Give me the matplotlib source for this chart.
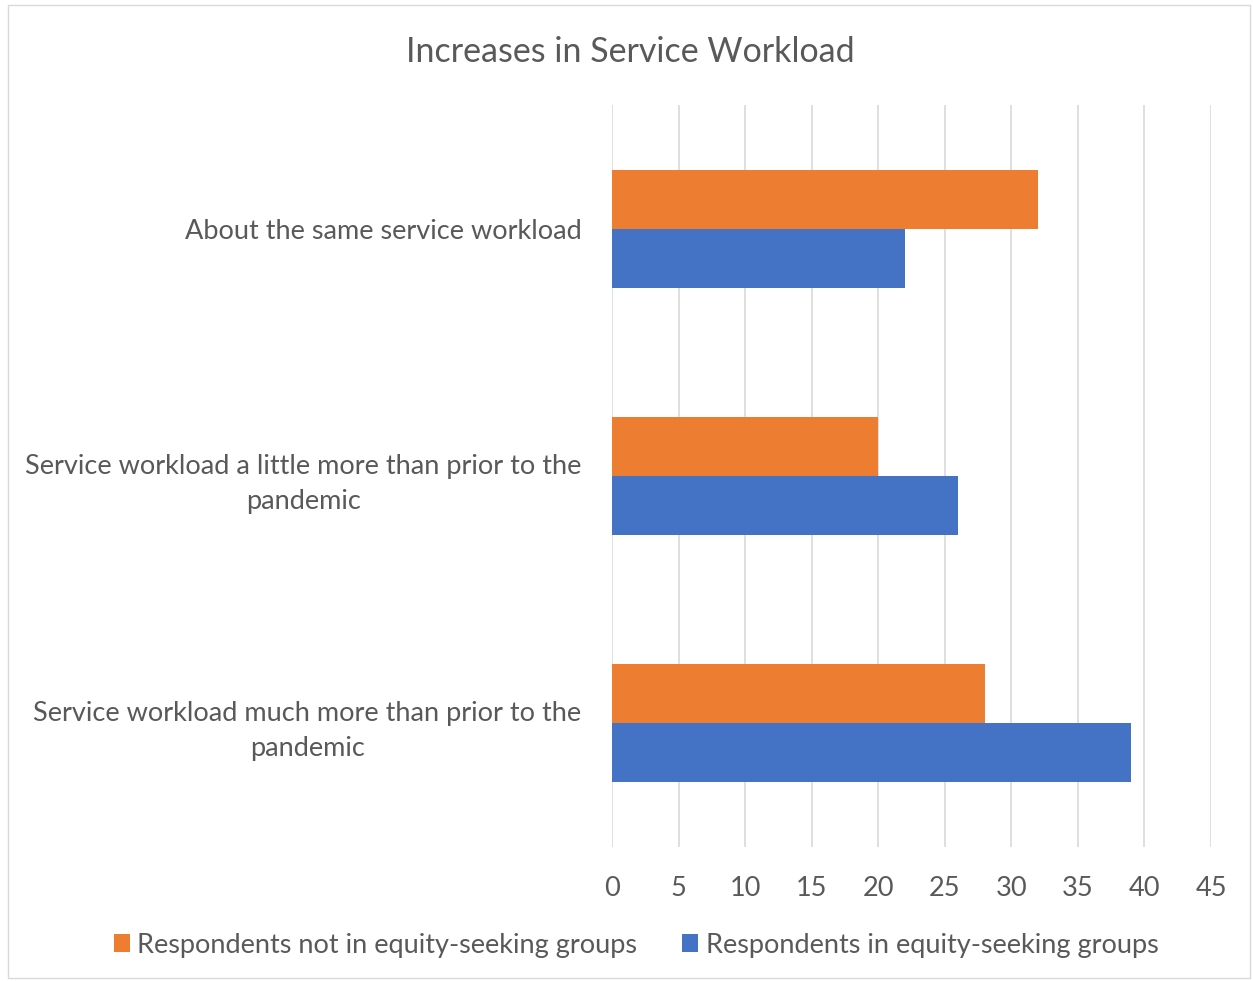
import matplotlib
matplotlib.use("Agg")
import matplotlib.pyplot as plt
from matplotlib.patches import Rectangle

categories = ["About the same service workload",
              "Service workload a little more than prior to the\npandemic",
              "Service workload much more than prior to the\npandemic"]
not_equity = [32, 20, 28]
equity = [22, 26, 39]
series_names = ["Respondents not in equity-seeking groups",
                "Respondents in equity-seeking groups"]
xticks = list(range(0, 50, 5))

plt.rcParams['font.family'] = ['Lato', 'DejaVu Sans']
txt = '#595959'
orange = '#ED7D31'
blue = '#4472C4'
fs = 19.5

fig = plt.figure(figsize=(12.53, 9.81), dpi=100)
ax = fig.add_axes([612/1253, 1-847/981, (1211-612)/1253, (847-105)/981])

y = list(range(len(categories)))
h = 0.238
ax.barh([v - h/2 for v in y], not_equity, height=h, color=orange, label=series_names[0], zorder=3)
ax.barh([v + h/2 for v in y], equity, height=h, color=blue, label=series_names[1], zorder=3)

ax.set_xlim(0, 45)
ax.set_ylim(2.5, -0.5)
ax.set_xticks(xticks)
ax.set_xticklabels([str(t) for t in xticks], fontsize=fs, color=txt)
ax.set_yticks(y)
ax.set_yticklabels(categories, fontsize=fs, color=txt, multialignment='center', linespacing=1.5)
ax.tick_params(axis='y', length=0, pad=22)
ax.tick_params(axis='x', length=0, pad=21)
ax.grid(axis='x', color='#D9D9D9', linewidth=1.2, zorder=0)
for s in ax.spines.values():
    s.set_visible(False)

fig.text(630/1253, 1-52/981, "Increases in Service Workload", ha='center', va='center',
         fontsize=24.5, color=txt)

leg = fig.legend(loc='center', bbox_to_anchor=(636/1253, 1-945/981), ncol=2, frameon=False,
                 fontsize=fs, handlelength=0.6, handleheight=0.6, columnspacing=1.65,
                 handletextpad=0.27)
for t in leg.get_texts():
    t.set_color(txt)

fig.patches.append(Rectangle((8/1253, 1-978/981), (1250-8)/1253, (978-5)/981,
                             transform=fig.transFigure, fill=False, edgecolor='#D9D9D9',
                             linewidth=1))

fig.savefig("out.png", dpi=100)
